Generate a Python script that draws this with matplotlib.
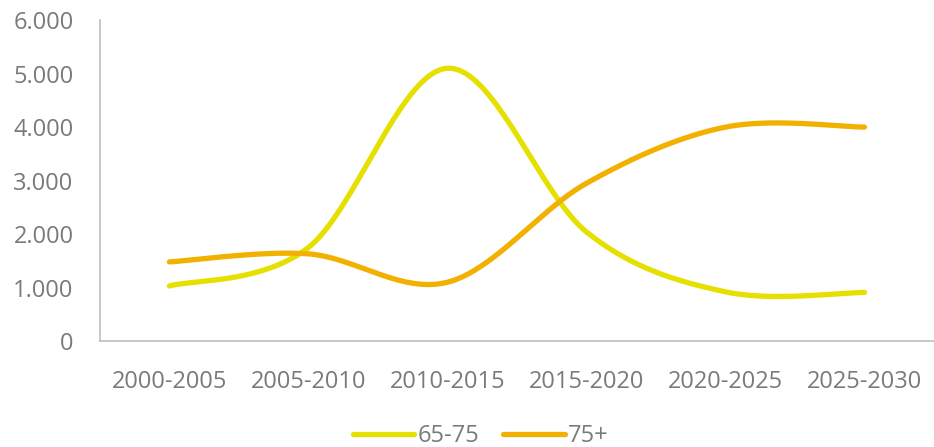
import numpy as np
import matplotlib.pyplot as plt
from matplotlib.ticker import FuncFormatter

plt.rcParams['font.family'] = ['Open Sans', 'DejaVu Sans']

# Data
periods = ['2000-2005', '2005-2010', '2010-2015', '2015-2020', '2020-2025', '2025-2030']
age_65_75 = [1030, 1750, 5100, 2040, 920, 910]
age_75_plus = [1480, 1630, 1100, 2950, 4000, 4000]

yellow = '#E5E000'
orange = '#F2B100'
grey = '#7A7A7A'


def smooth(y, n=40):
    # Excel-like smoothed line (Catmull-Rom through the points)
    y = np.asarray(y, dtype=float)
    x = np.arange(len(y), dtype=float)
    px = np.concatenate([[x[0]], x, [x[-1]]])
    py = np.concatenate([[y[0]], y, [y[-1]]])
    xs, ys = [], []
    t = np.linspace(0, 1, n)
    for i in range(1, len(px) - 2):
        p0x, p1x, p2x, p3x = px[i - 1], px[i], px[i + 1], px[i + 2]
        p0y, p1y, p2y, p3y = py[i - 1], py[i], py[i + 1], py[i + 2]
        c1x, c1y = p1x + (p2x - p0x) / 6, p1y + (p2y - p0y) / 6
        c2x, c2y = p2x - (p3x - p1x) / 6, p2y - (p3y - p1y) / 6
        b0 = (1 - t) ** 3
        b1 = 3 * (1 - t) ** 2 * t
        b2 = 3 * (1 - t) * t ** 2
        b3 = t ** 3
        xs.append(b0 * p1x + b1 * c1x + b2 * c2x + b3 * p2x)
        ys.append(b0 * p1y + b1 * c1y + b2 * c2y + b3 * p2y)
    return np.concatenate(xs), np.concatenate(ys)


fig = plt.figure(figsize=(9.34, 4.47), dpi=100)
ax = fig.add_axes([0.107, 0.237, 0.893, 0.718])

x1, y1 = smooth(age_65_75)
x2, y2 = smooth(age_75_plus)
ax.plot(x1, y1, color=yellow, lw=3.8, solid_capstyle='round', label='65-75')
ax.plot(x2, y2, color=orange, lw=3.8, solid_capstyle='round', label='75+')

ax.set_xlim(-0.5, len(periods) - 0.5)
ax.set_ylim(0, 6000)
ax.set_yticks(np.arange(0, 6001, 1000))
ax.yaxis.set_major_formatter(FuncFormatter(lambda v, p: f'{int(v):,}'.replace(',', '.')))
ax.set_xticks(range(len(periods)))
ax.set_xticklabels(periods)

for s in ['top', 'right']:
    ax.spines[s].set_visible(False)
for s in ['left', 'bottom']:
    ax.spines[s].set_color('#BFBFBF')
    ax.spines[s].set_linewidth(1.2)
ax.tick_params(axis='both', length=0, labelsize=17, labelcolor=grey)
ax.tick_params(axis='y', pad=19)
ax.tick_params(axis='x', pad=21)

leg = fig.legend(loc='lower center', bbox_to_anchor=(0.515, -0.05), ncol=2, frameon=False,
                 fontsize=17, handlelength=2.6, columnspacing=1.0, handletextpad=0.15)
for t in leg.get_texts():
    t.set_color(grey)

fig.savefig('out.png', dpi=100)
